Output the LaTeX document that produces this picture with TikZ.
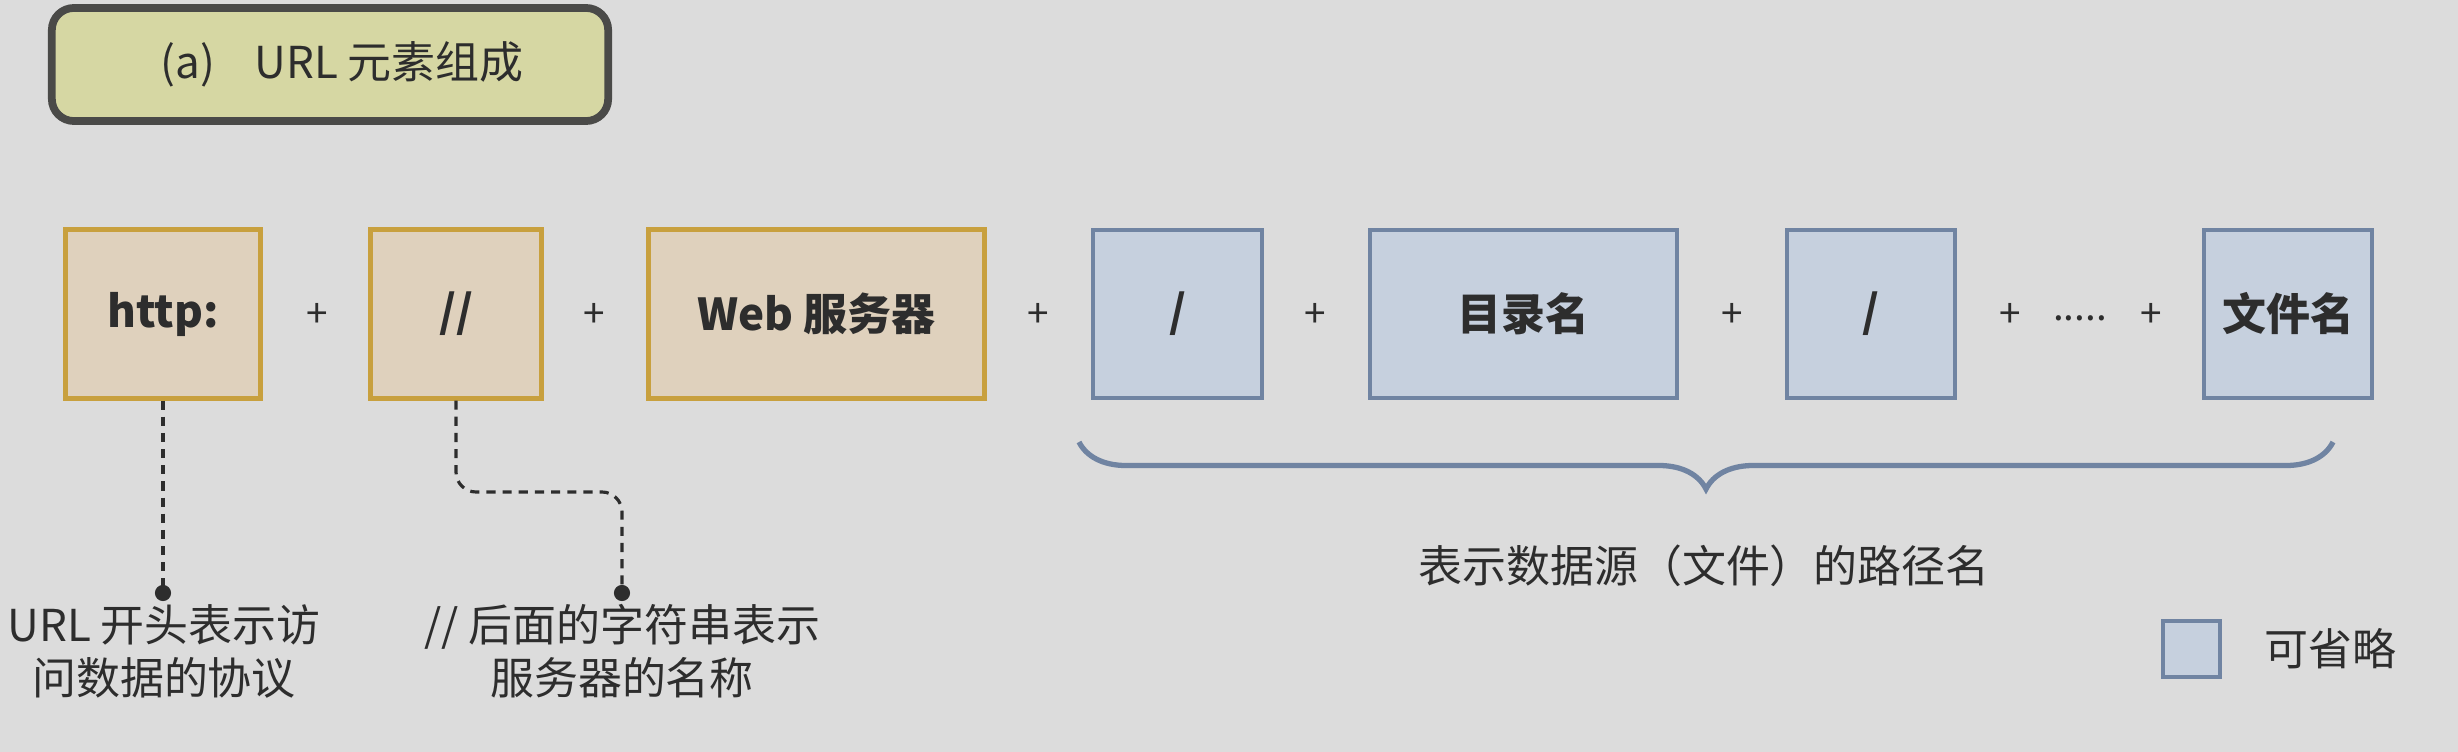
\documentclass[tikz,border=0pt]{standalone}
\usepackage{fontspec}
\setmainfont{Noto Sans CJK SC}
\usetikzlibrary{decorations.pathreplacing}
\definecolor{bgc}{RGB}{220,220,220}
\definecolor{titlefill}{RGB}{214,215,163}
\definecolor{titleline}{RGB}{74,74,72}
\definecolor{tanfill}{RGB}{223,209,189}
\definecolor{tanline}{RGB}{200,160,62}
\definecolor{bluefill}{RGB}{198,208,222}
\definecolor{blueline}{RGB}{112,132,162}
\definecolor{txt}{RGB}{45,45,45}
\tikzset{
  titlebox/.style={draw=titleline, fill=titlefill, line width=2.2pt, rounded corners=0.22cm,
    minimum width=5.56cm, minimum height=1.13cm, inner sep=0pt},
  tanbox/.style={draw=tanline, fill=tanfill, line width=1.4pt, minimum height=1.68cm,
    inner sep=0pt, font=\fontsize{12.5}{15}\selectfont\bfseries, text=txt},
  bluebox/.style={draw=blueline, fill=bluefill, line width=1.1pt, minimum height=1.68cm,
    inner sep=0pt, font=\fontsize{12.5}{15}\selectfont\bfseries, text=txt},
  plus/.style={font=\fontsize{11}{13}\selectfont, text=txt, inner sep=0pt},
  caption/.style={font=\fontsize{12.5}{15.1}\selectfont, text=txt, align=center, inner sep=0pt},
  dashline/.style={draw=txt, line width=0.9pt, dash pattern=on 2.6pt off 2pt},
  bracestyle/.style={draw=blueline, line width=1.5pt,
    decorate, decoration={brace, mirror, amplitude=0.47cm}},
}
\begin{document}
\begin{tikzpicture}[x=0.01cm,y=-0.01cm]
\fill[bgc] (0,0) rectangle (2458,752);
\useasboundingbox (0,0) rectangle (2458,752);

% title
\node[titlebox] (title) at (330,64.5) {};
\node[font=\fontsize{12.5}{15}\selectfont, text=txt, inner sep=0pt] (titletext) at (342,64)
  {(a)\hspace{0.9em}URL 元素组成};

% boxes
\node[tanbox, minimum width=1.94cm] (http) at (163,314) {http:};
\node[tanbox, minimum width=1.70cm] (dsl) at (456,314) {//};
\node[tanbox, minimum width=3.35cm] (web) at (816.5,314) {Web 服务器};
\node[bluebox, minimum width=1.69cm] (s1) at (1177.5,314) {/};
\node[bluebox, minimum width=3.07cm] (dir) at (1523.5,314) {目录名};
\node[bluebox, minimum width=1.68cm] (s2) at (1871,314) {/};
\node[bluebox, minimum width=1.68cm] (file) at (2288,314) {文件名};

% plus signs
\node[plus] (p1) at (317,315) {+};
\node[plus] (p2) at (594,315) {+};
\node[plus] (p3) at (1038,315) {+};
\node[plus] (p4) at (1315,315) {+};
\node[plus] (p5) at (1732,315) {+};
\node[plus] (p6) at (2010,315) {+};
\node[plus] (dots) at (2080,318) {.....};
\node[plus] (p7) at (2151,315) {+};

% brace
\coordinate (bl) at (1079,442);
\coordinate (br) at (2333,442);
\draw[bracestyle] (bl) -- (br);
\node[caption] (pathlabel) at (1704,566) {表示数据源（文件）的路径名};

% dashed leaders
\coordinate (d1) at (163,593);
\coordinate (d2) at (622,593);
\draw[dashline] (http.south) -- (d1);
\draw[dashline, rounded corners=0.2cm] (dsl.south) -- (456,492) -- (622,492) -- (d2);
\fill[txt] (d1) circle (2.3pt);
\fill[txt] (d2) circle (2.3pt);
\node[caption] (cap1) at (164,651) {URL 开头表示访\\问数据的协议};
\node[caption] (cap2) at (622,651) {// 后面的字符串表示\\服务器的名称};

% legend
\node[bluebox, minimum width=0.57cm, minimum height=0.56cm] (leg) at (2191.5,649) {};
\node[caption, anchor=west] (legtext) at (2264,649) {可省略};
\end{tikzpicture}
\end{document}
